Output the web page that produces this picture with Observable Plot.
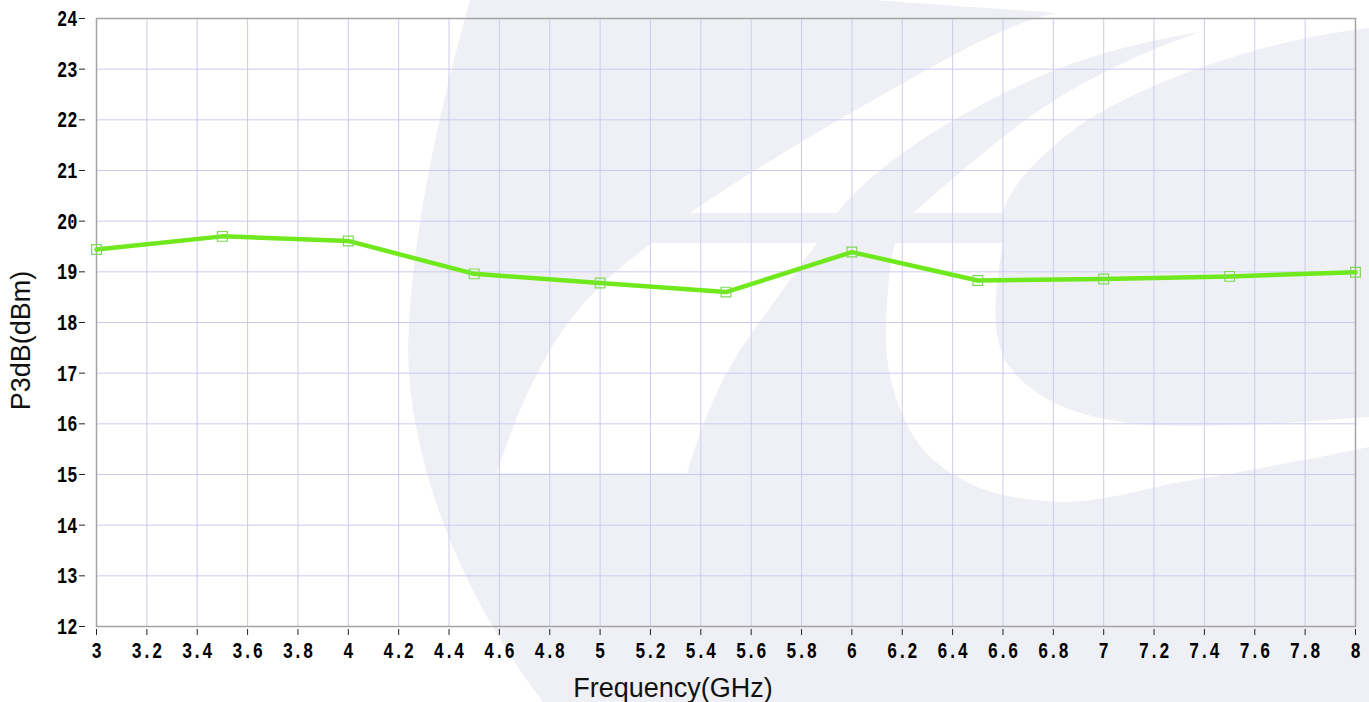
<!DOCTYPE html>
<html>
<head>
<meta charset="utf-8">
<script src="https://cdn.jsdelivr.net/npm/d3@7"></script>
<script src="https://cdn.jsdelivr.net/npm/@observablehq/plot@0.6"></script>
<style>
  html, body { margin: 0; padding: 0; background: #ffffff; }
  #chart { width: 1369px; height: 702px; }
</style>
</head>
<body>
<div id="chart"></div>
<script>
// Data
const frequency = [3, 3.5, 4, 4.5, 5, 5.5, 6, 6.5, 7, 7.5, 8];
const p3db = [19.44, 19.70, 19.61, 18.96, 18.78, 18.60, 19.39, 18.83, 18.86, 18.91, 18.99];
const xTicks = [3, 3.2, 3.4, 3.6, 3.8, 4, 4.2, 4.4, 4.6, 4.8, 5, 5.2, 5.4, 5.6, 5.8, 6, 6.2, 6.4, 6.6, 6.8, 7, 7.2, 7.4, 7.6, 7.8, 8];
const yTicks = [12, 13, 14, 15, 16, 17, 18, 19, 20, 21, 22, 23, 24];
const xLabel = "Frequency(GHz)";
const yLabel = "P3dB(dBm)";

const rows = frequency.map((f, i) => ({f, v: p3db[i]}));

const gridColor = "#cdcaee";
const lineColor = "#6fe81c";

const plot = Plot.plot({
  width: 1369,
  height: 702,
  marginLeft: 96,
  marginRight: 14,
  marginTop: 18,
  marginBottom: 76,
  style: {background: "transparent", fontFamily: "Liberation Mono", fontSize: "17px", fontWeight: "bold", color: "#000"},
  x: {domain: [3, 8]},
  y: {domain: [12, 24]},
  marks: [
    Plot.gridX(xTicks, {stroke: gridColor, strokeOpacity: 1, strokeWidth: 1}),
    Plot.gridY(yTicks, {stroke: gridColor, strokeOpacity: 1, strokeWidth: 1}),
    Plot.frame({stroke: "#a4a4a4", strokeWidth: 1.5}),
    Plot.axisX(xTicks, {tickSize: 6, dy: 3, tickPadding: 6, label: null, tickFormat: d => String(d), stroke: "#222", fontWeight: "bold", fontSize: 17, fontFamily: "Liberation Mono"}),
    Plot.axisY(yTicks, {tickSize: 6, dx: -11, tickPadding: 2, label: null, tickFormat: d => d + "", stroke: "#222", fontWeight: "bold", fontSize: 17, fontFamily: "Liberation Mono"}),
    Plot.line(rows, {x: "f", y: "v", stroke: lineColor, strokeWidth: 4.5, curve: "linear"}),
    Plot.dot(rows, {x: "f", y: "v", symbol: "square", r: 5.5, stroke: "#7ed957", strokeWidth: 1.2, fill: "none"}),
    Plot.text([xLabel], {frameAnchor: "bottom", textAnchor: "middle", lineAnchor: "middle", dx: -53, dy: 62, fontFamily: "Liberation Sans", fontWeight: "normal", fontSize: 27, fill: "#111"}),
    Plot.text([yLabel], {frameAnchor: "left", textAnchor: "middle", lineAnchor: "middle", rotate: -90, dx: -75, dy: 18, fontFamily: "Liberation Sans", fontWeight: "normal", fontSize: 27, fill: "#111"})
  ]
});

// Make tick labels taller, like the bitmap font of the original
const svg = d3.select(plot);
svg.selectAll('g[aria-label="x-axis tick label"] text, g[aria-label="y-axis tick label"] text')
  .each(function() {
    const t = this.getAttribute("transform") || "";
    this.setAttribute("transform", t + " scale(1,1.35)");
  });

// Decorative background watermark (faint logo) behind the chart
const wm = svg.insert("g", ":first-child").attr("class", "watermark");
const gray = "#eff0f5";
wm.append("path").attr("fill", gray)
  .attr("d", "M470,0 C445,90 410,230 408,350 C410,470 465,600 543,702 L1369,702 L1369,0 Z");
wm.append("path").attr("fill", "#fff")
  .attr("d", "M873,0 L1369,0 L1369,28 C1250,42 1140,85 1080,125 C1035,158 1008,190 1003,213 L690,213 C760,165 850,112 950,57 C995,33 1030,18 1057,13 Z");
wm.append("path").attr("fill", gray)
  .attr("d", "M837,213 C875,165 950,115 1050,72 C1100,52 1150,40 1200,32 C1140,52 1065,88 1015,128 C975,158 940,190 913,213 Z");
wm.append("path").attr("fill", "#fff")
  .attr("d", "M652,243 L817,243 C790,280 762,318 740,350 C715,390 700,430 687,473 L497,473 C512,425 530,385 550,350 C580,300 615,270 652,243 Z");
wm.append("path").attr("fill", "#fff")
  .attr("d", "M895,243 L1003,243 C995,290 990,330 1005,360 C1030,400 1080,420 1150,425 C1230,428 1300,422 1369,417 L1369,447 C1280,465 1210,478 1169,484 C1120,496 1090,502 1062,502 C1020,500 990,494 969,483 C932,465 914,442 905,420 C891,390 885,360 886,330 C887,292 890,262 895,243 Z");

document.getElementById("chart").appendChild(plot);
</script>
</body>
</html>
